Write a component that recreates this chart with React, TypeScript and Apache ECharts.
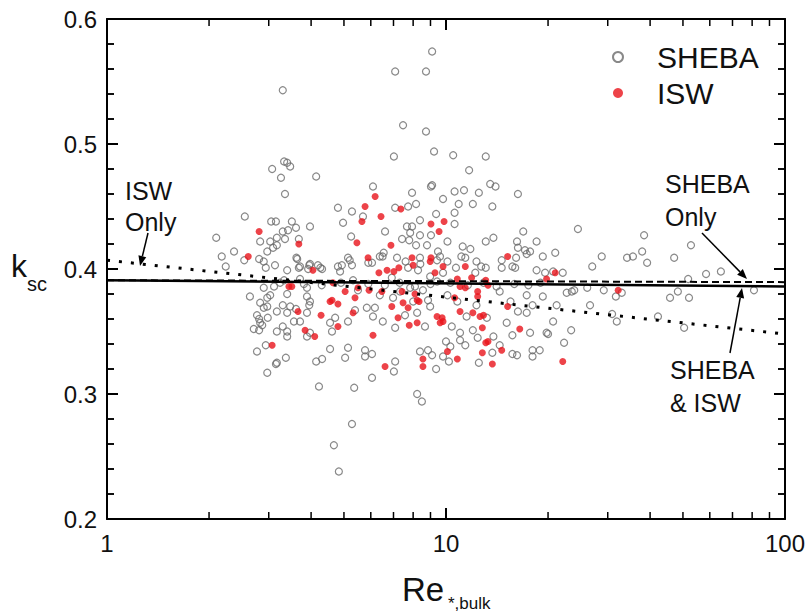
import React, { useEffect, useRef } from "react";
import * as echarts from "echarts";

const FONT = "'Liberation Sans', Arial, Helvetica, sans-serif";

// SHEBA observations: [Re*,bulk, k_sc]
const shebaPoints: number[][] = [
  [3.30,0.543],[9.1,0.574],[7.08,0.558],[8.73,0.558],[7.47,0.515],[8.73,0.510],[7.02,0.490],[9.22,0.494],[10.5,0.491],[13.1,0.490],
  [11.7,0.479],[6.09,0.466],[9.03,0.466],[9.1,0.467],[7.94,0.461],[10.6,0.462],[11.3,0.463],[12.5,0.461],[13.5,0.468],[14.0,0.466],
  [16.3,0.460],[9.8,0.456],[10.9,0.452],[12.0,0.452],[13.7,0.450],[4.80,0.449],[5.28,0.446],[7.08,0.449],[7.73,0.450],[8.16,0.452],
  [4.97,0.437],[10.6,0.445],[10.6,0.436],[8.38,0.439],[5.69,0.442],[7.67,0.434],[7.94,0.434],[9.35,0.444],[6.61,0.430],[7.84,0.429],
  [8.38,0.427],[9.03,0.427],[5.25,0.426],[16.9,0.430],[13.8,0.425],[13.1,0.422],[16.2,0.422],[18.5,0.422],[10.1,0.422],[7.42,0.424],
  [7.79,0.423],[8.79,0.419],[8.16,0.419],[11.2,0.418],[16.3,0.417],[17.1,0.415],[17.7,0.414],[21.0,0.413],[19.3,0.410],[5.14,0.409],
  [6.55,0.413],[9.47,0.414],[11.8,0.416],
  [3.07,0.480],[3.33,0.486],[3.40,0.485],[3.47,0.482],[3.26,0.473],[4.14,0.474],[3.35,0.460],[2.55,0.442],[3.05,0.438],[3.15,0.438],
  [3.51,0.438],[3.97,0.434],[3.61,0.433],[3.42,0.431],[3.30,0.430],[3.35,0.424],[3.68,0.424],[3.17,0.425],[3.03,0.422],[2.83,0.422],
  [2.10,0.425],[2.37,0.414],[2.18,0.410],[2.97,0.414],[3.09,0.417],[3.17,0.419],
  [24.5,0.432],[38.4,0.427],[52.8,0.419],[28.8,0.410],[34.2,0.409],[35.6,0.410],[37.9,0.414],[39.2,0.405],[47.1,0.409],[27.0,0.402],
  [22.1,0.397],[58.5,0.396],[64.7,0.398],[51.8,0.392],[22.7,0.381],[23.5,0.382],[23.9,0.383],[26.1,0.385],[29.2,0.383],[33.0,0.381],
  [31.7,0.378],[45.8,0.377],[48.3,0.382],[52.1,0.377],[81.0,0.383],[26.6,0.371],[30.9,0.364],[31.9,0.358],[42.2,0.362],[50.4,0.353],
  [23.4,0.351],[22.3,0.341],
  [2.54,0.407],[2.24,0.402],[2.81,0.408],[2.90,0.406],[2.94,0.401],[3.40,0.399],[3.71,0.402],[3.64,0.408],[3.62,0.409],[3.97,0.404],
  [4.19,0.403],[4.31,0.400],[3.92,0.400],[3.71,0.392],[3.33,0.391],[3.24,0.389],[2.90,0.385],[3.11,0.386],[3.81,0.388],[3.89,0.385],
  [2.64,0.378],[3.03,0.379],[2.97,0.377],[3.40,0.380],[3.89,0.378],[3.97,0.374],[2.83,0.373],[2.90,0.369],[2.97,0.370],[3.30,0.371],
  [3.47,0.370],[3.17,0.366],[3.40,0.365],[3.95,0.371],[3.61,0.368],[3.89,0.365],[2.77,0.363],[2.81,0.360],[2.98,0.361],[2.83,0.357],
  [2.71,0.352],[2.81,0.351],[2.87,0.355],[3.17,0.350],[3.30,0.354],[3.40,0.350],[3.40,0.346],[3.56,0.358],[3.71,0.358],[3.89,0.346],
  [3.97,0.349],[2.94,0.339],[2.77,0.334],[3.15,0.324],[3.37,0.329],[2.97,0.317],[4.14,0.326],[4.31,0.328],[4.22,0.306],[4.55,0.336],
  [4.55,0.357],[3.17,0.325],
  [4.80,0.402],[4.87,0.398],[5.28,0.403],[5.32,0.391],[6.05,0.405],[6.38,0.410],[7.17,0.409],[7.73,0.401],[8.27,0.399],[8.38,0.409],
  [9.41,0.407],[10.1,0.406],[9.8,0.397],[10.7,0.401],[11.4,0.409],[12.3,0.406],[12.2,0.397],[13.1,0.401],[14.6,0.407],[15.7,0.402],
  [16.1,0.409],[18.5,0.399],[19.6,0.397],[20.7,0.398],[6.92,0.393],[8.98,0.394],[9.41,0.390],
  [5.50,0.383],[5.39,0.367],[4.71,0.361],[4.61,0.350],[5.14,0.358],[5.84,0.369],[6.17,0.369],[6.09,0.362],[6.51,0.358],[6.98,0.377],
  [7.08,0.353],[7.57,0.363],[8.22,0.365],[8.67,0.354],[8.98,0.370],[8.85,0.375],[10.1,0.379],[10.4,0.354],[11.0,0.349],[11.5,0.362],
  [12.0,0.351],[12.4,0.345],[13.2,0.361],[13.8,0.346],[14.4,0.382],[15.1,0.357],[15.7,0.347],[16.3,0.366],[17.3,0.365],[17.7,0.349],
  [18.0,0.371],[19.3,0.378],[19.8,0.349],[20.7,0.358],[21.2,0.371],[17.3,0.379],[15.5,0.374],[10.8,0.374],[12.3,0.371],[8.0,0.374],
  [7.32,0.382],[8.55,0.383],[7.84,0.385],[6.38,0.379],
  [5.14,0.337],[5.04,0.329],[5.77,0.335],[5.77,0.330],[6.05,0.332],[7.08,0.326],[7.02,0.318],[6.05,0.313],[5.36,0.305],[8.38,0.334],
  [8.85,0.335],[9.1,0.331],[9.35,0.320],[9.8,0.330],[10.2,0.326],[10.0,0.342],[10.3,0.338],[11.0,0.343],[11.4,0.339],[12.5,0.325],
  [13.7,0.333],[14.4,0.339],[15.7,0.332],[16.2,0.331],[18.0,0.335],[18.9,0.335],[18.0,0.330],[20.0,0.348],[8.22,0.300],[8.49,0.294],
  [5.28,0.276],[4.67,0.259],[4.83,0.238],
  [3.13,0.403],[3.68,0.401],[3.95,0.403],[4.26,0.401],[4.93,0.403],[5.20,0.407],[5.90,0.405],[6.50,0.410],[7.60,0.406],[8.40,0.404],
  [9.60,0.410],[11.1,0.410],[12.7,0.402],[14.6,0.401],[16.0,0.401],[17.3,0.412],
  [5.9,0.388],[6.6,0.387],[7.3,0.389],[8.1,0.386],[9.0,0.388],[10.3,0.389],[11.6,0.387],[12.9,0.389],[14.1,0.386],[15.9,0.388],
  [17.5,0.387],[19.0,0.389],[4.3,0.387],[4.9,0.389]
];

// ISW observations: [Re*,bulk, k_sc]
const iswPoints: number[][] = [
  [6.18,0.458],[5.77,0.450],[6.43,0.442],[5.65,0.438],[7.36,0.448],[9.03,0.436],[9.87,0.438],[9.54,0.430],[5.46,0.421],[6.88,0.419],
  [5.89,0.409],[7.94,0.409],[9.03,0.409],
  [2.81,0.430],[3.68,0.420],[2.61,0.410],
  [32.2,0.383],[22.1,0.326],
  [4.05,0.399],[3.44,0.386],[3.51,0.386],[4.55,0.374],[3.66,0.366],[4.28,0.363],[3.84,0.351],[4.10,0.346],[3.07,0.339],
  [6.34,0.397],[6.70,0.399],[7.02,0.398],[7.26,0.401],[8.0,0.403],[8.98,0.406],[9.28,0.397],[9.8,0.402],[11.4,0.402],
  [10.8,0.392],[11.9,0.393],[13.1,0.391],[19.8,0.392],[21.0,0.397],[4.61,0.375],
  [5.04,0.382],[5.39,0.377],[4.80,0.372],[5.93,0.383],[6.47,0.382],[5.50,0.385],[7.42,0.382],[8.10,0.380],[8.22,0.375],[6.92,0.370],
  [7.47,0.373],[7.73,0.369],[8.33,0.374],[8.22,0.357],[7.22,0.361],[7.79,0.355],[9.41,0.362],[9.74,0.361],[9.61,0.357],[9.80,0.358],
  [10.6,0.377],[11.0,0.386],[11.4,0.385],[12.4,0.382],[12.4,0.378],[11.0,0.366],[12.0,0.365],[12.6,0.362],[12.9,0.363],[12.8,0.353],
  [13.1,0.341],[13.3,0.342],[12.8,0.333],[14.6,0.335],[13.7,0.324],[15.2,0.370],[16.5,0.352],[5.32,0.365],[4.80,0.354],[6.09,0.347],
  [6.61,0.322],[8.55,0.328],[8.55,0.322],[10.1,0.334],[10.8,0.328],
  [15.2,0.410],[4.64,0.389],[13.3,0.387]
];

// Fitted lines (endpoints at Re = 1 and Re = 100)
const fitBoth: number[][] = [[1, 0.391], [100, 0.386]];
const fitSheba: number[][] = [[1, 0.391], [100, 0.3895]];
const fitIsw: number[][] = [[1, 0.407], [100, 0.348]];

// Axis tick values
const xMajorTicks = [1, 10, 100];
const xMinorTicks = [2, 3, 4, 5, 6, 7, 8, 9, 20, 30, 40, 50, 60, 70, 80, 90];
const yMajorTicks = [0.2, 0.3, 0.4, 0.5, 0.6];
const yMinorTicks = [0.22, 0.24, 0.26, 0.28, 0.32, 0.34, 0.36, 0.38, 0.42, 0.44, 0.46, 0.48, 0.52, 0.54, 0.56, 0.58];
const yTickLabels = ["0.2", "0.3", "0.4", "0.5", "0.6"];

const X_MIN = 1, X_MAX = 100, Y_MIN = 0.2, Y_MAX = 0.6;

function arrow(x1: number, y1: number, x2: number, y2: number) {
  const dx = x2 - x1, dy = y2 - y1;
  const len = Math.sqrt(dx * dx + dy * dy);
  const ux = dx / len, uy = dy / len;
  const hl = 10, hw = 4;
  const bx = x2 - ux * hl, by = y2 - uy * hl;
  const px = -uy * hw, py = ux * hw;
  return [
    { type: "line", z: 20, shape: { x1, y1, x2: bx, y2: by }, style: { stroke: "#000", lineWidth: 1.5 } },
    { type: "polygon", z: 20, shape: { points: [[x2, y2], [bx + px, by + py], [bx - px, by - py]] }, style: { fill: "#000" } },
  ];
}

function txt(text: string, x: number, y: number, size: number, extra: any = {}) {
  return {
    type: "text", z: 20, x, y,
    style: { text, fontSize: size, fontFamily: FONT, fill: "#111", textVerticalAlign: "middle", textAlign: "left", ...extra },
  };
}

// inward ticks drawn as thin filled rectangles (custom series, positioned by api.coord)
function renderXTick(_params: any, api: any) {
  const major = api.value(2) === 1;
  const len = major ? 11 : 7;
  const w = major ? 2 : 1.5;
  const v = api.value(0);
  const b = api.coord([v, Y_MIN]);
  const t = api.coord([v, Y_MAX]);
  return {
    type: "group",
    children: [
      { type: "rect", shape: { x: b[0] - w / 2, y: b[1] - len, width: w, height: len }, style: { fill: "#000" } },
      { type: "rect", shape: { x: t[0] - w / 2, y: t[1], width: w, height: len }, style: { fill: "#000" } },
    ],
  };
}
function renderYTick(_params: any, api: any) {
  const major = api.value(2) === 1;
  const len = major ? 11 : 7;
  const w = major ? 2 : 1.5;
  const v = api.value(1);
  const l = api.coord([X_MIN, v]);
  const r = api.coord([X_MAX, v]);
  return {
    type: "group",
    children: [
      { type: "rect", shape: { x: l[0], y: l[1] - w / 2, width: len, height: w }, style: { fill: "#000" } },
      { type: "rect", shape: { x: r[0] - len, y: r[1] - w / 2, width: len, height: w }, style: { fill: "#000" } },
    ],
  };
}

export default function App() {
  const ref = useRef<HTMLDivElement>(null);
  useEffect(() => {
    if (!ref.current) return;
    const chart = echarts.init(ref.current, undefined, { renderer: "svg" });
    const axisLine = () => ({ show: true, onZero: false, lineStyle: { color: "#000", width: 2 } });
    const majorTick = () => ({ show: true, inside: true, length: 11, lineStyle: { color: "#000", width: 2 } });
    const yMinor = () => ({ show: true, splitNumber: 5, length: 7, lineStyle: { color: "#000", width: 1.5 } });
    const xTickData = [
      ...xMajorTicks.map((v) => [v, Y_MIN, 1]),
      ...xMinorTicks.map((v) => [v, Y_MIN, 0]),
    ];
    const yTickData = [
      ...yMajorTicks.map((v) => [X_MIN, v, 1]),
      ...yMinorTicks.map((v) => [X_MIN, v, 0]),
    ];
    const option: any = {
      animation: false,
      backgroundColor: "#fff",
      grid: { left: 107, right: 24, top: 19, bottom: 96 },
      legend: {
        data: ["SHEBA", "ISW"],
        orient: "vertical",
        left: 607,
        top: 37,
        itemWidth: 12,
        itemHeight: 10,
        itemGap: 6,
        textStyle: { fontSize: 30, fontFamily: FONT, color: "#111", padding: [0, 0, 0, 28] },
      },
      xAxis: [
        {
          type: "log", logBase: 10, min: X_MIN, max: X_MAX, position: "bottom",
          axisLine: axisLine(), axisTick: majorTick(),
          axisLabel: { show: true, fontSize: 24, fontFamily: FONT, color: "#111", margin: 12 },
          splitLine: { show: false },
        },
        {
          type: "log", logBase: 10, min: X_MIN, max: X_MAX, position: "top",
          axisLine: axisLine(), axisTick: majorTick(),
          axisLabel: { show: false }, splitLine: { show: false },
        },
      ],
      yAxis: [
        {
          type: "value", min: Y_MIN, max: Y_MAX, interval: 0.1, position: "left",
          axisLine: axisLine(), axisTick: majorTick(), minorTick: yMinor(),
          axisLabel: {
            fontSize: 24, fontFamily: FONT, color: "#111", margin: 10,
            formatter: (v: number) => yTickLabels[Math.round((v - 0.2) * 10)] ?? v.toFixed(1),
          },
          splitLine: { show: false }, minorSplitLine: { show: false },
        },
        {
          type: "value", min: Y_MIN, max: Y_MAX, interval: 0.1, position: "right",
          axisLine: axisLine(), axisTick: majorTick(), minorTick: yMinor(),
          axisLabel: { show: false }, splitLine: { show: false }, minorSplitLine: { show: false },
        },
      ],
      series: [
        {
          name: "SHEBA", type: "scatter", data: shebaPoints, symbol: "circle", symbolSize: 7, z: 2,
          itemStyle: { color: "rgba(255,255,255,0)", borderColor: "#6a6a6a", borderWidth: 1.2 },
        },
        {
          name: "ISW", type: "scatter", data: iswPoints, symbol: "circle", symbolSize: 7, z: 3,
          itemStyle: { color: "#e8141c" },
        },
        {
          name: "SHEBA & ISW fit", type: "line", data: fitBoth, showSymbol: false, symbol: "none", z: 5,
          lineStyle: { color: "#000", width: 2.5, type: "solid" },
        },
        {
          name: "SHEBA Only fit", type: "line", data: fitSheba, showSymbol: false, symbol: "none", z: 5,
          lineStyle: { color: "#000", width: 2, type: [7, 4] },
        },
        {
          name: "ISW Only fit", type: "line", data: fitIsw, showSymbol: false, symbol: "none", z: 5,
          lineStyle: { color: "#000", width: 3, type: [3, 9] },
        },
        {
          name: "xTicks", type: "custom", data: xTickData, renderItem: renderXTick, z: 6, silent: true,
          encode: { x: 0, y: 1 }, clip: false, dimensions: ["x", "y", "major"],
        },
        {
          name: "yTicks", type: "custom", data: yTickData, renderItem: renderYTick, z: 6, silent: true,
          encode: { x: 0, y: 1 }, clip: false, dimensions: ["x", "y", "major"],
        },
      ],
      graphic: [
        txt("ISW", 125, 191, 25),
        txt("Only", 125, 222, 25),
        ...arrow(148, 233, 140, 266),
        txt("SHEBA", 665, 184, 25),
        txt("Only", 665, 217, 25),
        ...arrow(702, 233, 747, 279),
        txt("SHEBA", 670, 370, 25),
        txt("& ISW", 670, 403, 25),
        ...arrow(730, 353, 742, 288),
        txt("k", 11, 266, 32),
        txt("sc", 27, 284, 20),
        txt("Re", 402, 589, 33),
        txt("*,bulk", 448, 603, 17),
      ],
    };
    chart.setOption(option);
    return () => chart.dispose();
  }, []);
  return <div ref={ref} style={{ position: "fixed", left: 0, top: 0, width: 809, height: 615, background: "#fff" }} />;
}
